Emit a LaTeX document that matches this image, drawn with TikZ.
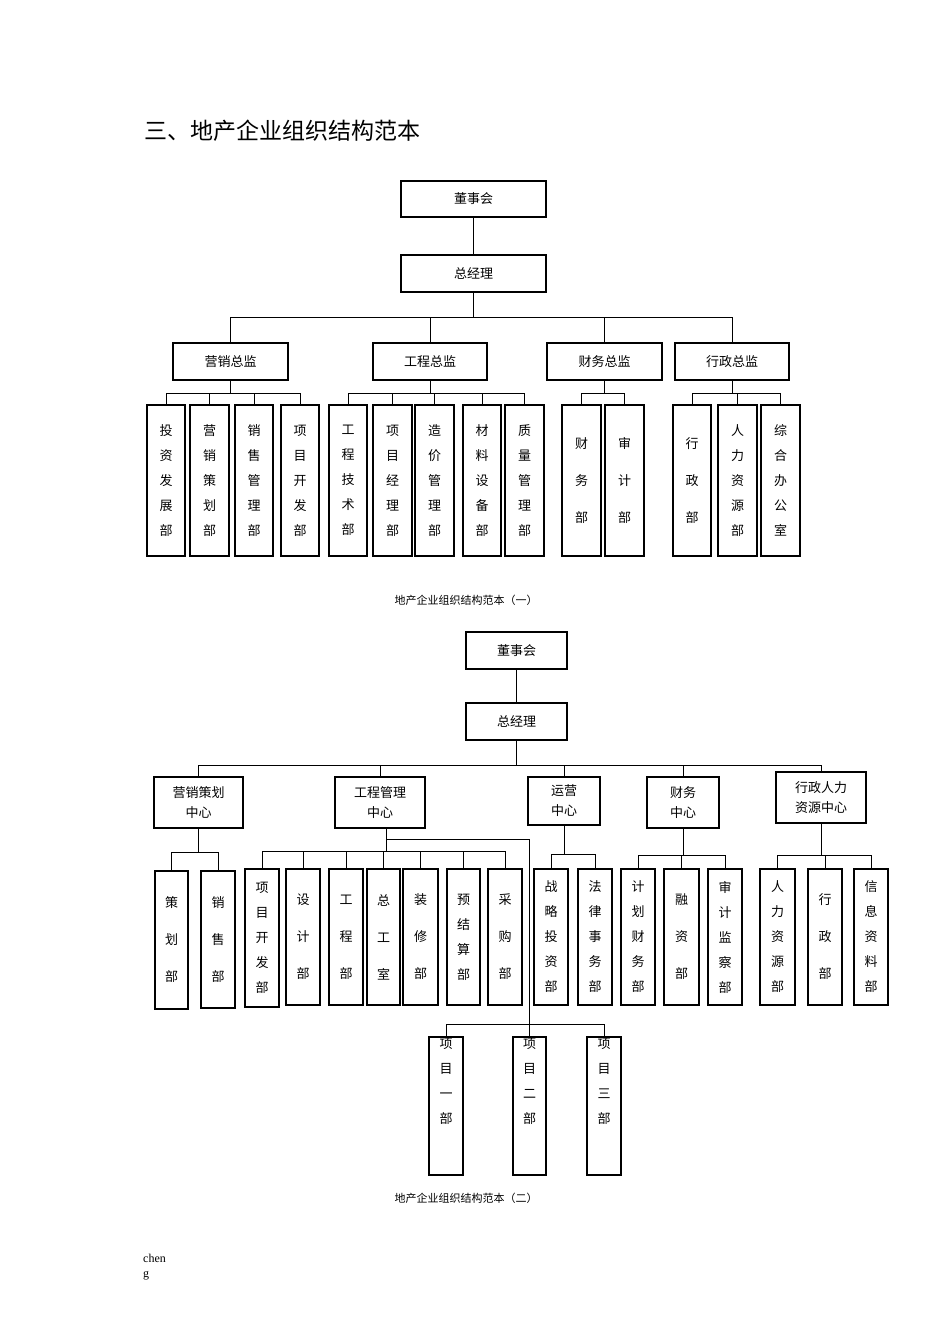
\documentclass[tikz,border=0pt]{standalone}
\usepackage{fontspec}
\newfontfamily\cjk{Noto Sans CJK SC}
\setmainfont{Liberation Serif}
\begin{document}
\begin{tikzpicture}[x=1pt,y=-1pt,
 box/.style={draw,line width=1.1pt,inner sep=0pt,align=center,font=\cjk\fontsize{13}{20}\selectfont},
 ln/.style={line width=1pt},
 f5/.style={font=\cjk\fontsize{13}{25}\selectfont},
 f3/.style={font=\cjk\fontsize{13}{37}\selectfont}]
\newcommand\bx[7][]{\node[box,#1,minimum width={#4pt-#3pt},minimum height={#6pt-#5pt}] (#2) at ({(#3+#4)/2},{(#5+#6)/2}) {#7};}
\useasboundingbox (0,0) rectangle (950,1344);
\node[anchor=west,font=\cjk\fontsize{23}{28}\selectfont] (title) at (141,131) {三、地产企业组织结构范本};
% chart 1
\bx{a}{401}{546}{181}{217}{董事会}
\bx{b}{401}{546}{255}{292}{总经理}
\draw[ln] (a) -- (b);
\bx{d1}{173}{288}{343}{380}{营销总监}
\bx{d2}{373}{487}{343}{380}{工程总监}
\bx{d3}{547}{662}{343}{380}{财务总监}
\bx{d4}{675}{789}{343}{380}{行政总监}
\foreach \n in {d1,d2,d3,d4} \draw[ln] (b.south) -- ++(0,25) -| (\n.north);
\bx[f5]{l1}{147}{185}{405}{556}{投\\资\\发\\展\\部}
\bx[f5]{l2}{190}{229}{405}{556}{营\\销\\策\\划\\部}
\bx[f5]{l3}{235}{273}{405}{556}{销\\售\\管\\理\\部}
\bx[f5]{l4}{281}{319}{405}{556}{项\\目\\开\\发\\部}
\bx[f5]{l5}{329}{367}{405}{556}{工\\程\\技\\术\\部}
\bx[f5]{l6}{373}{412}{405}{556}{项\\目\\经\\理\\部}
\bx[f5]{l7}{415}{454}{405}{556}{造\\价\\管\\理\\部}
\bx[f5]{l8}{463}{501}{405}{556}{材\\料\\设\\备\\部}
\bx[f5]{l9}{505}{544}{405}{556}{质\\量\\管\\理\\部}
\bx[f3]{l10}{562}{601}{405}{556}{财\\务\\部}
\bx[f3]{l11}{605}{644}{405}{556}{审\\计\\部}
\bx[f3]{l12}{673}{711}{405}{556}{行\\政\\部}
\bx[f5]{l13}{718}{757}{405}{556}{人\\力\\资\\源\\部}
\bx[f5]{l14}{761}{800}{405}{556}{综\\合\\办\\公\\室}
\foreach \n in {l1,l2,l3,l4} \draw[ln] (d1.south) -- ++(0,13) -| (\n.north);
\foreach \n in {l5,l6,l7,l8,l9} \draw[ln] (d2.south) -- ++(0,13) -| (\n.north);
\foreach \n in {l10,l11} \draw[ln] (d3.south) -- ++(0,13) -| (\n.north);
\foreach \n in {l12,l13,l14} \draw[ln] (d4.south) -- ++(0,13) -| (\n.north);
\node[font=\cjk\fontsize{11}{13}\selectfont] (c1) at (466,600) {地产企业组织结构范本（一）};
% chart 2
\bx{A}{466}{567}{632}{669}{董事会}
\bx{B}{466}{567}{703}{740}{总经理}
\draw[ln] (A) -- (B);
\bx{m1}{154}{243}{777}{828}{营销策划\\中心}
\bx{m2}{335}{425}{777}{828}{工程管理\\中心}
\bx{m3}{528}{600}{777}{825}{运营\\中心}
\bx{m4}{647}{719}{777}{828}{财务\\中心}
\bx{m5}{776}{866}{772}{823}{行政人力\\资源中心}
\foreach \n in {m1,m2,m3,m4,m5} \draw[ln] (B.south) -- ++(0,25) -| (\n.north);
\bx[f3]{s1}{155}{188}{871}{1009}{策\\划\\部}
\bx[f3]{s2}{201}{235}{871}{1008}{销\\售\\部}
\bx[f5]{g1}{245}{279}{869}{1007}{项\\目\\开\\发\\部}
\bx[f3]{g2}{286}{320}{869}{1005}{设\\计\\部}
\bx[f3]{g3}{329}{363}{869}{1005}{工\\程\\部}
\bx[f3]{g4}{367}{400}{869}{1005}{总\\工\\室}
\bx[f3]{g5}{403}{438}{869}{1005}{装\\修\\部}
\bx[font=\cjk\fontsize{13}{25}\selectfont]{g6}{447}{480}{869}{1005}{预\\结\\算\\部}
\bx[f3]{g7}{488}{522}{869}{1005}{采\\购\\部}
\bx[f5]{o1}{534}{568}{869}{1005}{战\\略\\投\\资\\部}
\bx[f5]{o2}{578}{612}{869}{1005}{法\\律\\事\\务\\部}
\bx[f5]{q1}{621}{655}{869}{1005}{计\\划\\财\\务\\部}
\bx[f3]{q2}{664}{699}{869}{1005}{融\\资\\部}
\bx[f5]{q3}{708}{742}{869}{1005}{审\\计\\监\\察\\部}
\bx[f5]{r1}{760}{795}{869}{1005}{人\\力\\资\\源\\部}
\bx[f3]{r2}{808}{842}{869}{1005}{行\\政\\部}
\bx[f5]{r3}{854}{888}{869}{1005}{信\\息\\资\\料\\部}
\foreach \n in {s1,s2} \draw[ln] (m1.south) -- ++(0,24) -| (\n.north);
\foreach \n in {g1,g2,g3,g4,g5,g6,g7} \draw[ln] ([xshift=6pt]m2.south) -- ++(0,23) -| (\n.north);
\foreach \n in {o1,o2} \draw[ln] (m3.south) -- ++(0,29) -| (\n.north);
\foreach \n in {q1,q2,q3} \draw[ln] (m4.south) -- ++(0,27) -| (\n.north);
\foreach \n in {r1,r2,r3} \draw[ln] (m5.south) -- ++(0,32) -| (\n.north);
\bx[font=\cjk\fontsize{13}{25}\selectfont]{p1}{429}{463}{1037}{1175}{项\\目\\一\\部\\[25pt]}
\bx[font=\cjk\fontsize{13}{25}\selectfont]{p2}{513}{546}{1037}{1175}{项\\目\\二\\部\\[25pt]}
\bx[font=\cjk\fontsize{13}{25}\selectfont]{p3}{587}{621}{1037}{1175}{项\\目\\三\\部\\[25pt]}
\draw[ln] ([xshift=6pt,yshift=-11pt]m2.south) -| (p2.north);
\foreach \n in {p1,p3} \draw[ln] (p2.north) ++(0,-12) -| (\n.north);
\node[font=\cjk\fontsize{11}{13}\selectfont] (c2) at (466,1198) {地产企业组织结构范本（二）};
\node[anchor=north west,align=left,font=\fontsize{12}{15}\selectfont,inner sep=0pt] (ch) at (143,1254) {chen\\g};
\end{tikzpicture}
\end{document}
